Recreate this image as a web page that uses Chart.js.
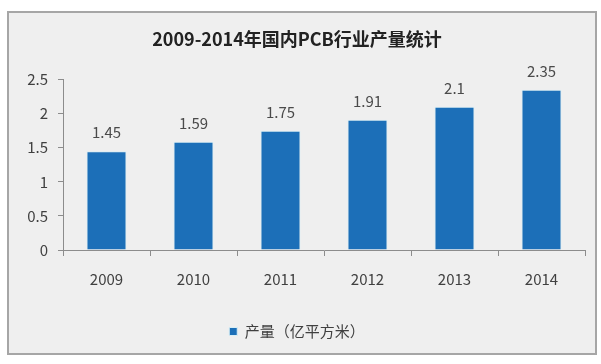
<!DOCTYPE html>
<html>
<head>
<meta charset="utf-8">
<script src="https://cdn.jsdelivr.net/npm/chart.js@4.4.1/dist/chart.umd.min.js"></script>
<style>
  body { margin: 0; background: #fff; }
  #box {
    position: absolute; left: 7px; top: 11px;
    width: 586px; height: 340px;
    border: 2px solid #a6a6a6;
    background: #efefef;
  }
  canvas { display: block; }
</style>
</head>
<body>
<div id="box"><canvas id="chart" width="586" height="340"></canvas></div>
<script>
const years = ["2009", "2010", "2011", "2012", "2013", "2014"];
const output = [1.45, 1.59, 1.75, 1.91, 2.1, 2.35];
const seriesName = "产量（亿平方米）";
const chartTitle = "2009-2014年国内PCB行业产量统计";

const fontFamily = "'Noto Sans CJK SC', 'Noto Sans', sans-serif";
const textColor = "#404040";
const axisColor = "#8c8c8c";

// values above the bars
const barLabels = {
  id: "barLabels",
  afterDatasetsDraw(chart) {
    const ctx = chart.ctx;
    const meta = chart.getDatasetMeta(0);
    ctx.save();
    ctx.font = "15px " + fontFamily;
    ctx.fillStyle = "#4a4a4a";
    ctx.textAlign = "center";
    ctx.textBaseline = "bottom";
    meta.data.forEach((bar, i) => {
      ctx.fillText(output[i], bar.x, bar.y - 11);
    });
    ctx.restore();
  },
};

new Chart(document.getElementById("chart").getContext("2d"), {
  type: "bar",
  data: {
    labels: years,
    datasets: [
      {
        label: seriesName,
        data: output,
        backgroundColor: "#1c6fb8",
        borderColor: "#d8eef5",
        borderWidth: 1,
        barPercentage: 0.92,
        categoryPercentage: 0.5,
      },
    ],
  },
  options: {
    responsive: false,
    animation: false,
    layout: { padding: { left: 0, right: 10, top: 0, bottom: 4 } },
    plugins: {
      title: {
        display: true,
        text: chartTitle,
        color: "#222",
        font: { family: fontFamily, size: 18, weight: "bold" },
        padding: { top: 15, bottom: 30 },
      },
      legend: {
        position: "bottom",
        labels: {
          color: textColor,
          font: { family: fontFamily, size: 15 },
          boxWidth: 8,
          boxHeight: 8,
          padding: 14,
        },
      },
      tooltip: { enabled: false },
    },
    scales: {
      x: {
        afterFit(scale) { scale.height += 8; },
        grid: { display: true, drawOnChartArea: false, offset: true, color: axisColor, tickLength: 6 },
        border: { color: axisColor },
        ticks: { color: textColor, font: { family: fontFamily, size: 15 }, padding: 14 },
      },
      y: {
        min: 0,
        max: 2.5,
        afterFit(scale) { scale.width = 54; },
        grid: { display: true, drawOnChartArea: false, color: axisColor, tickLength: 5 },
        border: { color: axisColor },
        ticks: {
          stepSize: 0.5,
          color: textColor,
          font: { family: fontFamily, size: 15 },
          padding: 10,
          callback: (v) => String(v),
        },
      },
    },
  },
  plugins: [barLabels],
});
</script>
</body>
</html>
